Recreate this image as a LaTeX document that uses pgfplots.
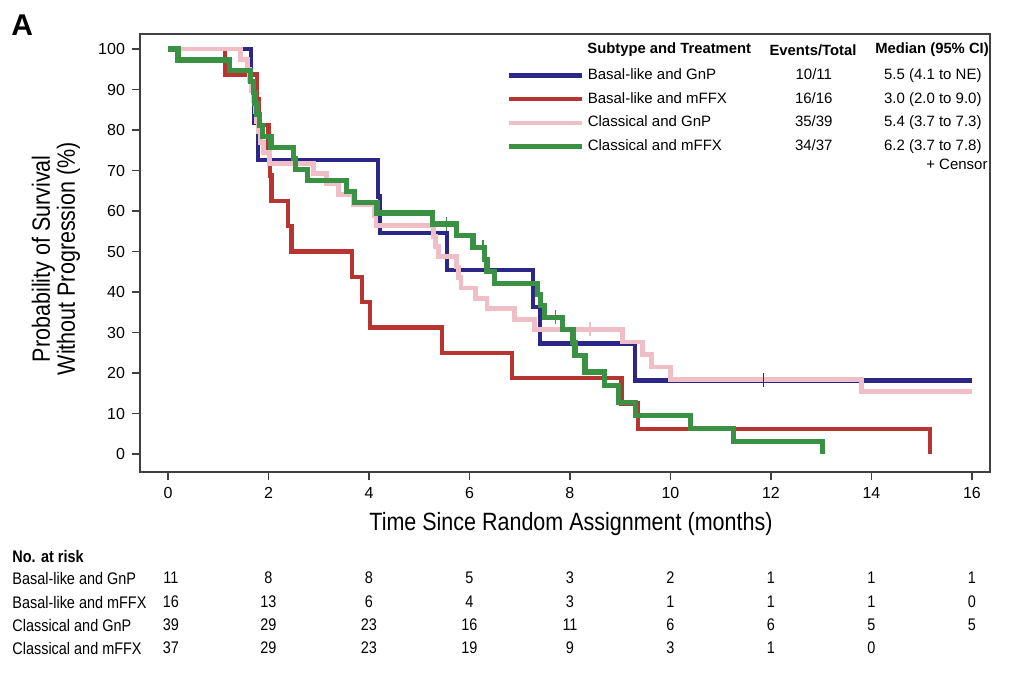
\documentclass[border=0pt]{standalone}
\usepackage{pgfplots}
\pgfplotsset{compat=1.18}
\usepackage{fontspec}
\setmainfont{Liberation Sans}
\newfontfamily\cond[FakeStretch=0.86]{Liberation Sans}

\definecolor{bgnp}{RGB}{44,38,135}
\definecolor{bmffx}{RGB}{183,52,48}
\definecolor{cgnp}{RGB}{240,190,198}
\definecolor{cmffx}{RGB}{58,145,68}

\begin{document}
\begin{tikzpicture}
% page frame in reference pixels (1 px = 0.5 pt)
\begin{scope}[x=0.5pt,y=-0.5pt,shift={(-70pt,236pt)}]
\useasboundingbox (0,0) rectangle (1014,676);
\end{scope}

\begin{axis}[
    at={(0,0)}, anchor=south west,
    scale only axis, width=425pt, height=219pt,
    xmin=-0.557, xmax=16.36, ymin=-4.4, ymax=103.7,
    xtick={0,2,...,16}, ytick={0,10,...,100},
    tick align=outside, xtick pos=bottom, ytick pos=left,
    major tick length=4pt,
    axis line style={black!75, line width=0.9pt},
    tick style={black!75, line width=0.8pt},
    ticklabel style={font=\fontsize{8}{9}\selectfont},
    /pgf/number format/assume math mode=true,
    xlabel={Time Since Random Assignment (months)},
    xlabel style={at={(axis description cs:0.507,-0.1187)}, anchor=center,
      font=\cond\fontsize{12.5}{14}\selectfont},
    ylabel={Probability of Survival\\Without Progression (\%)},
    ylabel style={at={(axis description cs:-0.0988,0.487)}, anchor=center,
      align=center, font=\cond\fontsize{12.5}{12.5}\selectfont},
    legend style={at={(axis description cs:0.4306,0.922)}, anchor=north west,
      draw=none, fill=none, inner sep=0pt, row sep=4.85pt, column sep=2pt,
      font=\fontsize{7.5}{9}\selectfont,
      nodes={inner sep=0pt, text height=5.5pt, text depth=1.5pt}},
    legend cell align=left,
    legend image code/.code={\draw[#1, line width=2.2pt] (0pt,0pt) -- (36.5pt,0pt);},
    every axis plot/.append style={const plot, line join=miter, line cap=butt},
]
% Basal-like and GnP
\addplot[bgnp, line width=2.1pt] coordinates {
(0,100)(1.65,90.9)(1.72,81.8)(1.79,72.7)(4.18,63.6)(4.22,54.5)(5.55,45.5)
(7.27,36.4)(7.4,27.3)(9.29,18.2)(16,18.2)};
% Basal-like and mFFX
\addplot[bmffx, line width=2.2pt] coordinates {
(0,100)(1.13,93.75)(1.77,87.5)(1.8,81.25)(2.0,75)(2.03,68.75)(2.06,62.5)
(2.39,56.25)(2.46,50)(3.66,43.75)(3.86,37.5)(4.02,31.25)(5.45,25)(6.85,18.75)
(9.03,12.5)(9.35,6.25)(15.17,0)};
% Classical and GnP
\addplot[cgnp, line width=2.4pt] coordinates {
(0,100)(1.45,97.4)(1.58,94.9)(1.63,92.3)(1.67,89.7)(1.7,87.2)(1.73,84.6)
(1.76,82.1)(1.8,79.5)(1.84,76.9)(1.9,74.4)(2.02,71.8)(2.9,69.2)(3.15,66.7)
(3.4,64.1)(3.7,61.5)(4.1,59.0)(4.14,56.4)(5.28,53.8)(5.33,51.3)(5.38,48.7)
(5.75,46.2)(5.78,43.6)(5.83,41.0)(6.12,38.5)(6.35,35.9)(6.9,33.3)(7.3,30.8)
(9.05,27.7)(9.45,24.6)(9.63,21.5)(10.0,18.5)(13.8,15.4)(16,15.4)};
% Classical and mFFX
\addplot[cmffx, line width=2.6pt] coordinates {
(0,100)(0.2,97.3)(1.23,94.6)(1.65,91.9)(1.7,89.2)(1.73,86.5)(1.77,83.8)
(1.82,81.1)(1.88,78.4)(2.05,75.7)(2.5,73.0)(2.53,70.3)(2.78,67.6)(3.56,64.9)
(3.72,62.2)(4.16,59.5)(5.27,56.8)(5.75,54.0)(6.07,51.1)(6.3,48.1)(6.35,45.1)
(6.5,42.2)(7.35,39.4)(7.42,36.6)(7.5,33.8)(7.85,30.7)(8.06,27.6)(8.1,24.4)
(8.3,20.3)(8.68,16.9)(8.96,12.8)(9.3,9.6)(10.4,6.4)(11.25,3.2)(13.03,0)};
% censor marks
\addplot[forget plot, only marks, mark=|, mark size=3.5pt, bgnp, line width=0.6pt]
  coordinates {(11.85,18.2)};
\addplot[forget plot, only marks, mark=|, mark size=3.5pt, cgnp, line width=0.7pt]
  coordinates {(8.4,30.8)};
\addplot[forget plot, only marks, mark=|, mark size=3.5pt, cmffx, line width=0.6pt]
  coordinates {(5.55,56.8)(6.27,51.1)(7.72,33.8)};
\legend{
\makebox[93pt][l]{Basal-like and GnP}\makebox[40pt][c]{10/11}\makebox[79pt][c]{5.5 (4.1 to NE)},
\makebox[93pt][l]{Basal-like and mFFX}\makebox[40pt][c]{16/16}\makebox[79pt][c]{3.0 (2.0 to 9.0)},
\makebox[93pt][l]{Classical and GnP}\makebox[40pt][c]{35/39}\makebox[79pt][c]{5.4 (3.7 to 7.3)},
\makebox[93pt][l]{Classical and mFFX}\makebox[40pt][c]{34/37}\makebox[79pt][c]{6.2 (3.7 to 7.8)}}
\end{axis}

% texts placed in reference pixels
\begin{scope}[x=0.5pt,y=-0.5pt,shift={(-70pt,236pt)}]
\node[anchor=west, inner sep=0pt, font=\bfseries\fontsize{15}{16}\selectfont] at (11,25) {A};
\begin{scope}[every node/.style={inner sep=0pt, font=\bfseries\fontsize{7.4}{9}\selectfont}]
\node[anchor=west] at (587,50) {Subtype and Treatment};
\node at (813,50) {Events/Total};
\node at (932,50) {Median (95\% CI)};
\end{scope}
\node[anchor=east, inner sep=0pt, font=\fontsize{7.5}{9}\selectfont] at (988,164) {+ Censor};
% number at risk
\begin{scope}[every node/.style={inner sep=0pt, font=\cond\fontsize{8.4}{10}\selectfont}]
\node[anchor=west, font=\cond\bfseries\fontsize{8.4}{10}\selectfont] at (12,556) {No. at risk};
\node[anchor=west] at (12,578) {Basal-like and GnP};
\node[anchor=west] at (12,602) {Basal-like and mFFX};
\node[anchor=west] at (12,625) {Classical and GnP};
\node[anchor=west] at (12,648) {Classical and mFFX};
\foreach \v [count=\i from 0] in {11,8,8,5,3,2,1,1,1}
  \node at ({168+100.5*\i+(\i==0?3:0)},578) {\v};
\foreach \v [count=\i from 0] in {16,13,6,4,3,1,1,1,0}
  \node at ({168+100.5*\i+(\i==0?3:0)},602) {\v};
\foreach \v [count=\i from 0] in {39,29,23,16,11,6,6,5,5}
  \node at ({168+100.5*\i+(\i==0?3:0)},625) {\v};
\foreach \v [count=\i from 0] in {37,29,23,19,9,3,1,0}
  \node at ({168+100.5*\i+(\i==0?3:0)},648) {\v};
\end{scope}
\end{scope}
\end{tikzpicture}
\end{document}
